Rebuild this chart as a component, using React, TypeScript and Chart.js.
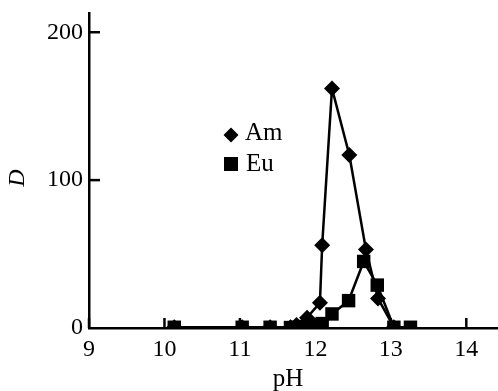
import React, { useEffect, useRef } from "react";
import { Chart, registerables } from "chart.js";

Chart.register(...registerables);

const amPH = [10.13, 11.03, 11.4, 11.67, 11.75, 11.89, 12.06, 12.09, 12.22, 12.45, 12.67, 12.83, 13.04];
const amD = [0.5, 0.5, 0.5, 0.5, 2, 7, 17, 56, 162, 117, 53, 20, 0.5];
const euPH = [10.13, 11.03, 11.4, 11.67, 11.75, 11.86, 11.97, 12.09, 12.22, 12.44, 12.64, 12.82, 13.04, 13.26];
const euD = [0.5, 0.5, 0.5, 0.3, 0.5, 1, 2, 3, 9.5, 18.5, 45, 29, 0.5, 0.5];
const xTicks = [9, 10, 11, 12, 13, 14];
const yTicks = [0, 100, 200];
const seriesNames = ["Am", "Eu"];

const FONT = "'Liberation Serif', 'Times New Roman', serif";

const overlay = {
  id: "overlay",
  afterDraw(chart: any) {
    const ctx = chart.ctx;
    const xs = chart.scales.x;
    const ys = chart.scales.y;
    const area = chart.chartArea;
    ctx.save();
    ctx.strokeStyle = "#000";
    ctx.lineWidth = 2.5;
    for (const t of xTicks) {
      const px = xs.getPixelForValue(t);
      ctx.beginPath();
      ctx.moveTo(px, area.bottom);
      ctx.lineTo(px, area.bottom - 10);
      ctx.stroke();
    }
    for (const t of yTicks) {
      if (t === 0) continue;
      const py = ys.getPixelForValue(t);
      ctx.beginPath();
      ctx.moveTo(area.left, py);
      ctx.lineTo(area.left + 11, py);
      ctx.stroke();
    }
    ctx.fillStyle = "#000";
    ctx.font = `25px ${FONT}`;
    ctx.textAlign = "center";
    ctx.textBaseline = "middle";
    ctx.fillText("pH", 288, 379);
    ctx.save();
    ctx.translate(18, 178);
    ctx.rotate(-Math.PI / 2);
    ctx.font = `italic 24px ${FONT}`;
    ctx.fillText("D", 0, 0);
    ctx.restore();
    const lx = 231;
    const y1 = 135;
    const y2 = 164;
    ctx.beginPath();
    ctx.moveTo(lx, y1 - 7.5);
    ctx.lineTo(lx + 7.5, y1);
    ctx.lineTo(lx, y1 + 7.5);
    ctx.lineTo(lx - 7.5, y1);
    ctx.closePath();
    ctx.fill();
    ctx.fillRect(lx - 7, y2 - 7, 14, 14);
    ctx.textAlign = "left";
    ctx.textBaseline = "alphabetic";
    ctx.font = `25px ${FONT}`;
    ctx.fillText(seriesNames[0], 245, 140);
    ctx.fillText(seriesNames[1], 246, 171);
    ctx.restore();
  },
};

export default function App() {
  const ref = useRef<HTMLCanvasElement>(null);
  useEffect(() => {
    document.body.style.margin = "0";
    const chart = new Chart(ref.current!, {
      type: "scatter",
      data: {
        datasets: [
          {
            label: seriesNames[0],
            data: amPH.map((x, i) => ({ x, y: amD[i] })),
            showLine: true,
            borderColor: "#000",
            backgroundColor: "#000",
            borderWidth: 2.5,
            pointStyle: "rectRot",
            pointRadius: 8,
            pointBorderWidth: 0,
          },
          {
            label: seriesNames[1],
            data: euPH.map((x, i) => ({ x, y: euD[i] })),
            showLine: true,
            borderColor: "#000",
            backgroundColor: "#000",
            borderWidth: 2.5,
            pointStyle: "rect",
            pointRadius: 9.5,
            pointBorderWidth: 0,
          },
        ],
      },
      options: {
        animation: false,
        responsive: false,
        maintainAspectRatio: false,
        layout: { autoPadding: false, padding: { top: 13, right: 0, left: 0, bottom: 0 } },
        plugins: { legend: { display: false }, tooltip: { enabled: false } },
        scales: {
          x: {
            type: "linear",
            min: 9,
            max: 14.42,
            afterFit: (s: any) => {
              s.height = 63;
              s.paddingRight = 0;
              s.paddingLeft = 0;
            },
            afterBuildTicks: (s: any) => {
              s.ticks = xTicks.map((v) => ({ value: v }));
            },
            grid: { display: false, drawTicks: false },
            border: { display: true, color: "#000", width: 2.5 },
            ticks: {
              color: "#000",
              font: { family: FONT, size: 24 },
              padding: 7,
              maxRotation: 0,
              autoSkip: false,
            },
          },
          y: {
            type: "linear",
            min: 0,
            max: 213,
            afterFit: (s: any) => {
              s.width = 89;
              s.paddingTop = 0;
              s.paddingBottom = 0;
            },
            afterBuildTicks: (s: any) => {
              s.ticks = yTicks.map((v) => ({ value: v }));
            },
            grid: { display: false, drawTicks: false },
            border: { display: true, color: "#000", width: 2.5 },
            ticks: {
              color: "#000",
              font: { family: FONT, size: 24 },
              padding: 6,
              autoSkip: false,
            },
          },
        },
      },
      plugins: [overlay],
    });
    return () => chart.destroy();
  }, []);
  return (
    <div style={{ width: 498, height: 391 }}>
      <canvas ref={ref} width={498} height={391} style={{ display: "block" }} />
    </div>
  );
}
